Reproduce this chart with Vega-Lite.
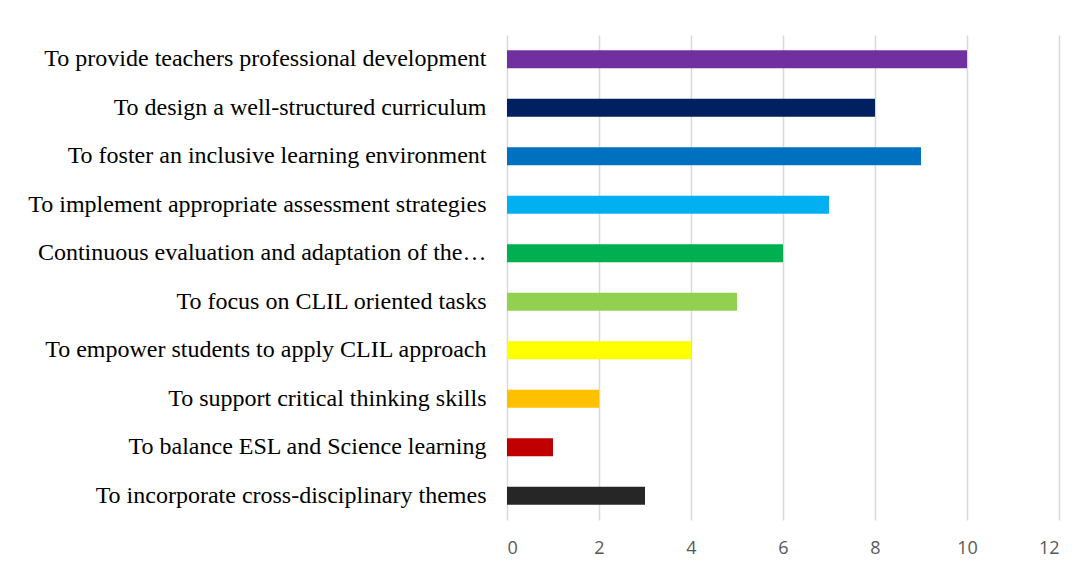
{
  "$schema": "https://vega.github.io/schema/vega-lite/v6.json",
  "width": 552,
  "height": 485,
  "autosize": "none",
  "padding": {"left": 507, "top": 35, "right": 30, "bottom": 55},
  "background": "white",
  "config": {"view": {"stroke": null}},
  "data": {"values": [
    {"item": "To provide teachers professional development", "value": 10, "color": "#7030A0"},
    {"item": "To design a well-structured curriculum", "value": 8, "color": "#002060"},
    {"item": "To foster an inclusive learning environment", "value": 9, "color": "#0070C0"},
    {"item": "To implement appropriate assessment strategies", "value": 7, "color": "#00B0F0"},
    {"item": "Continuous evaluation and adaptation of the…", "value": 6, "color": "#00B050"},
    {"item": "To focus on CLIL oriented tasks ", "value": 5, "color": "#92D050"},
    {"item": "To empower students to apply CLIL approach", "value": 4, "color": "#FFFF00"},
    {"item": "To support critical thinking skills", "value": 2, "color": "#FFC000"},
    {"item": "To balance ESL and Science learning", "value": 1, "color": "#C00000"},
    {"item": "To incorporate cross-disciplinary themes", "value": 3, "color": "#262626"}
  ]},
  "mark": {"type": "bar", "height": 18},
  "encoding": {
    "y": {
      "field": "item", "type": "nominal", "sort": null, "title": null,
      "scale": {"paddingInner": 0.6, "paddingOuter": 0.3},
      "axis": {"domain": false, "ticks": false, "labelPadding": 21, "labelLimit": 490,
               "labelFont": "Liberation Serif", "labelFontSize": 24, "labelColor": "#000000"}
    },
    "x": {
      "field": "value", "type": "quantitative", "title": null,
      "scale": {"domain": [0, 12], "nice": false},
      "axis": {"values": [0, 2, 4, 6, 8, 10, 12], "domain": false, "ticks": false, "labelPadding": 19,
               "labelFont": "Open Sans", "labelFontSize": 18, "labelColor": "#595959",
               "grid": true, "gridColor": "#D9D9D9", "gridWidth": 1.5}
    },
    "color": {"field": "color", "type": "nominal", "scale": null, "legend": null}
  }
}
